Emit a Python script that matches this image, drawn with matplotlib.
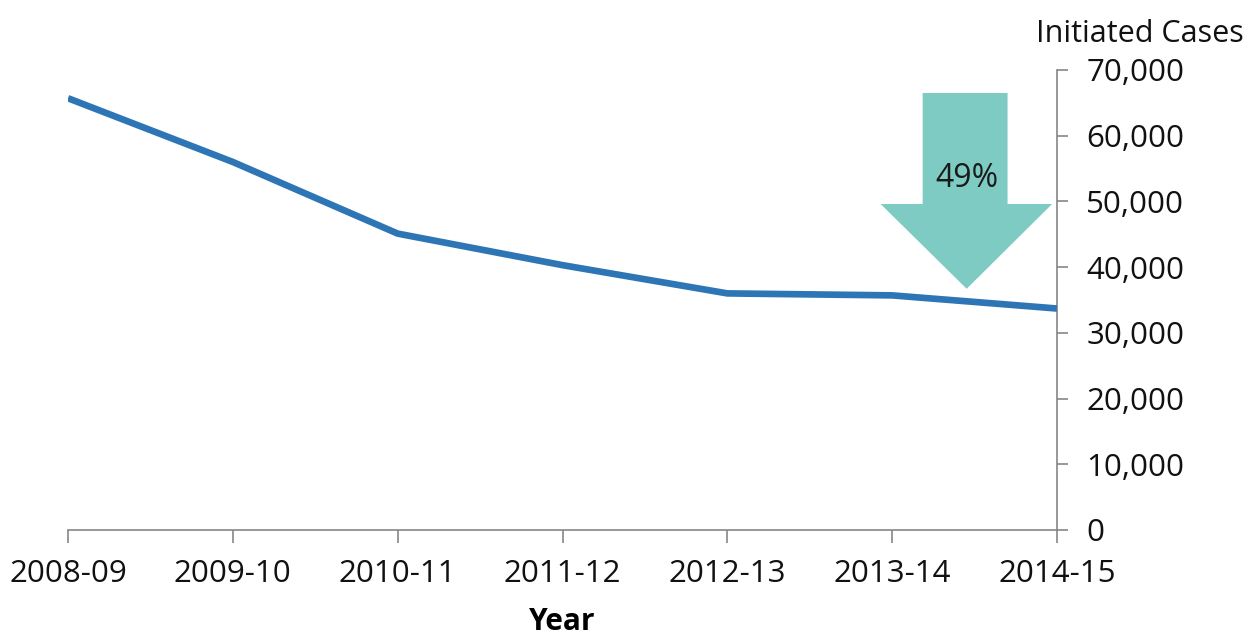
import matplotlib
matplotlib.use('Agg')
import matplotlib.pyplot as plt
from matplotlib.patches import Polygon
from matplotlib.ticker import FuncFormatter

plt.rcParams['font.family'] = ['Open Sans', 'DejaVu Sans']

years = ['2008-09', '2009-10', '2010-11', '2011-12', '2012-13', '2013-14', '2014-15']
cases = [65700, 56000, 45100, 40300, 36000, 35700, 33700]
y_ticks = [0, 10000, 20000, 30000, 40000, 50000, 60000, 70000]

drop_pct = round((1 - cases[-1] / cases[0]) * 100)

fig = plt.figure(figsize=(12.57, 6.35), dpi=100)
ax = fig.add_axes([0.0541, 0.1654, 0.7868, 0.7244])

x = list(range(len(years)))
ax.plot(x, cases, color='#2E75B6', linewidth=4.8, solid_joinstyle='round',
        solid_capstyle='butt', zorder=3)

# block arrow showing the overall decline
shaft_l, shaft_r, head_l, head_r, tip_x = 5.185, 5.70, 4.93, 5.97, 5.452
top_y, base_y, tip_y = 66500, 49600, 36700
arrow = Polygon([(shaft_l, top_y), (shaft_r, top_y), (shaft_r, base_y),
                 (head_r, base_y), (tip_x, tip_y), (head_l, base_y),
                 (shaft_l, base_y)],
                closed=True, facecolor='#7ECBC3', edgecolor='none',
                zorder=2, clip_on=False)
ax.add_patch(arrow)
ax.text(tip_x, 53500, f'{drop_pct}%', ha='center', va='center',
        fontsize=23, color='#1a1a1a', zorder=4)

ax.set_xlim(0, len(years) - 1)
ax.set_ylim(0, 70000)
ax.set_xticks(x)
ax.set_xticklabels(years)
ax.set_yticks(y_ticks)
ax.yaxis.set_major_formatter(FuncFormatter(lambda v, p: f'{int(v):,}'))

ax.yaxis.tick_right()
ax.spines['left'].set_visible(False)
ax.spines['top'].set_visible(False)
for s in ('right', 'bottom'):
    ax.spines[s].set_color('#868686')
    ax.spines[s].set_linewidth(1.2)

ax.tick_params(axis='x', direction='out', length=9, width=1.2, color='#868686',
               labelsize=22.5, pad=12, labelcolor='#111111')
ax.tick_params(axis='y', direction='out', length=8, width=1.2, color='#868686',
               labelsize=22.5, pad=13, labelcolor='#111111')

ax.set_xlabel('Year', fontsize=21.5, fontweight='bold', labelpad=13)
ax.text(1.084, 1.045, 'Initiated Cases', transform=ax.transAxes, ha='center',
        va='bottom', fontsize=22, color='#111111')

fig.savefig('out.png', dpi=100, facecolor='white')
